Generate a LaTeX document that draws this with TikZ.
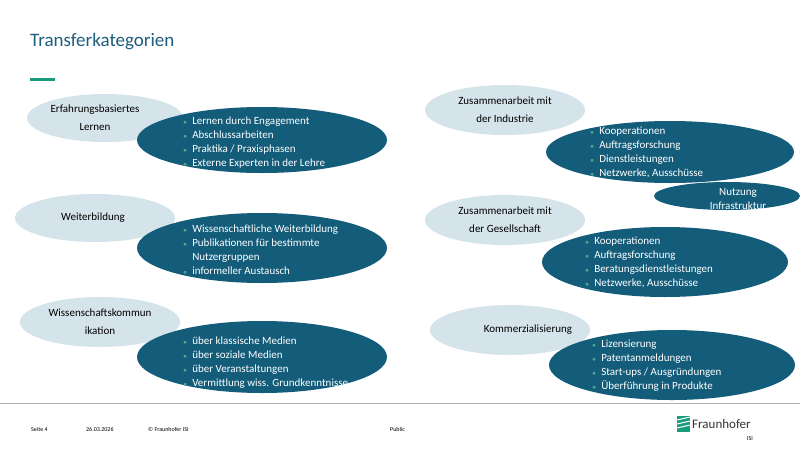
\documentclass[tikz,border=0pt]{standalone}
\usepackage{fontspec}
\setmainfont{Carlito}
\definecolor{lightE}{HTML}{D5E3EA}
\definecolor{darkE}{HTML}{135C7A}
\definecolor{bul}{HTML}{4FA58C}
\definecolor{titleC}{HTML}{1C5F7E}
\definecolor{fgreen}{HTML}{179C7D}
\begin{document}
\begin{tikzpicture}[x=1pt,y=-1pt,
  blist/.style={anchor=north west,align=left,text=white,font=\fontsize{11}{14}\selectfont,inner sep=0pt},
  lt/.style={align=center,font=\fontsize{11}{18}\selectfont},
  foot/.style={font=\fontsize{6}{7}\selectfont,anchor=west,inner sep=0pt}]
\useasboundingbox (0,0) rectangle (800,450);
\fill[white] (0,0) rectangle (800,450);
\newcommand{\bu}{\textcolor{bul}{\raisebox{0.5pt}{\scriptsize$\bullet$}}\ \ }
\node[anchor=west,text=titleC,font=\fontsize{19}{22}\selectfont,inner sep=0pt] (title) at (30,42) {Transferkategorien};
\draw[fgreen,line width=3] (30,79) -- (55,79);
% left column
\fill[lightE] (105,118) ellipse [x radius=78,y radius=24];
\node[lt] (l1) at (95,118) {Erfahrungsbasiertes\\Lernen};
\fill[darkE] (262,140) ellipse [x radius=125,y radius=33];
\node[blist] (d1) at (183,117) {\bu Lernen durch Engagement\\\bu Abschlussarbeiten\\\bu Praktika / Praxisphasen\\\bu Externe Experten in der Lehre};
\fill[lightE] (95,218) ellipse [x radius=80,y radius=24];
\node[lt] (l2) at (93,218) {Weiterbildung};
\fill[darkE] (262,248) ellipse [x radius=125,y radius=35];
\node[blist] (d2) at (183,225) {\bu Wissenschaftliche Weiterbildung\\\bu Publikationen für bestimmte\\\phantom{\bu}Nutzergruppen\\\bu informeller Austausch};
\fill[lightE] (100,322) ellipse [x radius=80,y radius=25];
\node[lt] (l3) at (100,322) {Wissenschaftskommun\\ikation};
\fill[darkE] (262,357) ellipse [x radius=125,y radius=36];
\node[blist] (d3) at (183,337) {\bu über klassische Medien\\\bu über soziale Medien\\\bu über Veranstaltungen\\\bu Vermittlung wiss. Grundkenntnisse};
% right column
\fill[lightE] (505,110) ellipse [x radius=80,y radius=25];
\node[lt] (l4) at (505,110) {Zusammenarbeit mit\\der Industrie};
\fill[darkE] (670,152) ellipse [x radius=124,y radius=31];
\node[blist] (d4) at (590,127) {\bu Kooperationen\\\bu Auftragsforschung\\\bu Dienstleistungen\\\bu Netzwerke, Ausschüsse};
\fill[darkE] (727,196) ellipse [x radius=73,y radius=14];
\node[align=center,text=white,font=\fontsize{11}{14}\selectfont,inner sep=0pt] (n4) at (738,199) {Nutzung\\Infrastruktur};
\fill[lightE] (505,220) ellipse [x radius=80,y radius=25];
\node[lt] (l5) at (505,220) {Zusammenarbeit mit\\der Gesellschaft};
\fill[darkE] (665,262) ellipse [x radius=123,y radius=35];
\node[blist] (d5) at (585,237) {\bu Kooperationen\\\bu Auftragsforschung\\\bu Beratungsdienstleistungen\\\bu Netzwerke, Ausschüsse};
\fill[lightE] (510,330) ellipse [x radius=80,y radius=25];
\node[lt] (l6) at (528,330) {Kommerzialisierung};
\fill[darkE] (672,365) ellipse [x radius=123,y radius=35];
\node[blist] (d6) at (592,340) {\bu Lizensierung\\\bu Patentanmeldungen\\\bu Start-ups / Ausgründungen\\\bu Überführung in Produkte};
% footer
\draw[gray!60,line width=1] (0,403) -- (800,403);
\node[foot] (f1) at (31,429) {Seite 4};
\node[foot] (f2) at (86,429) {26.03.2026};
\node[foot] (f3) at (148,429) {© Fraunhofer ISI};
\node[foot] (f4) at (390,429) {Public};
\fill[fgreen] (677,416) rectangle (690,432);
\foreach \i in {0,1,2}{\draw[white,line width=1] (677,420+4*\i) -- (690,417+4*\i);}
\node[anchor=west,inner sep=0pt,font=\fontsize{13}{14}\selectfont,text=black!80] (logo) at (692,424) {Fraunhofer};
\node[anchor=east,inner sep=0pt,font=\fontsize{6}{7}\selectfont] (isi) at (753,439) {ISI};
\end{tikzpicture}
\end{document}
